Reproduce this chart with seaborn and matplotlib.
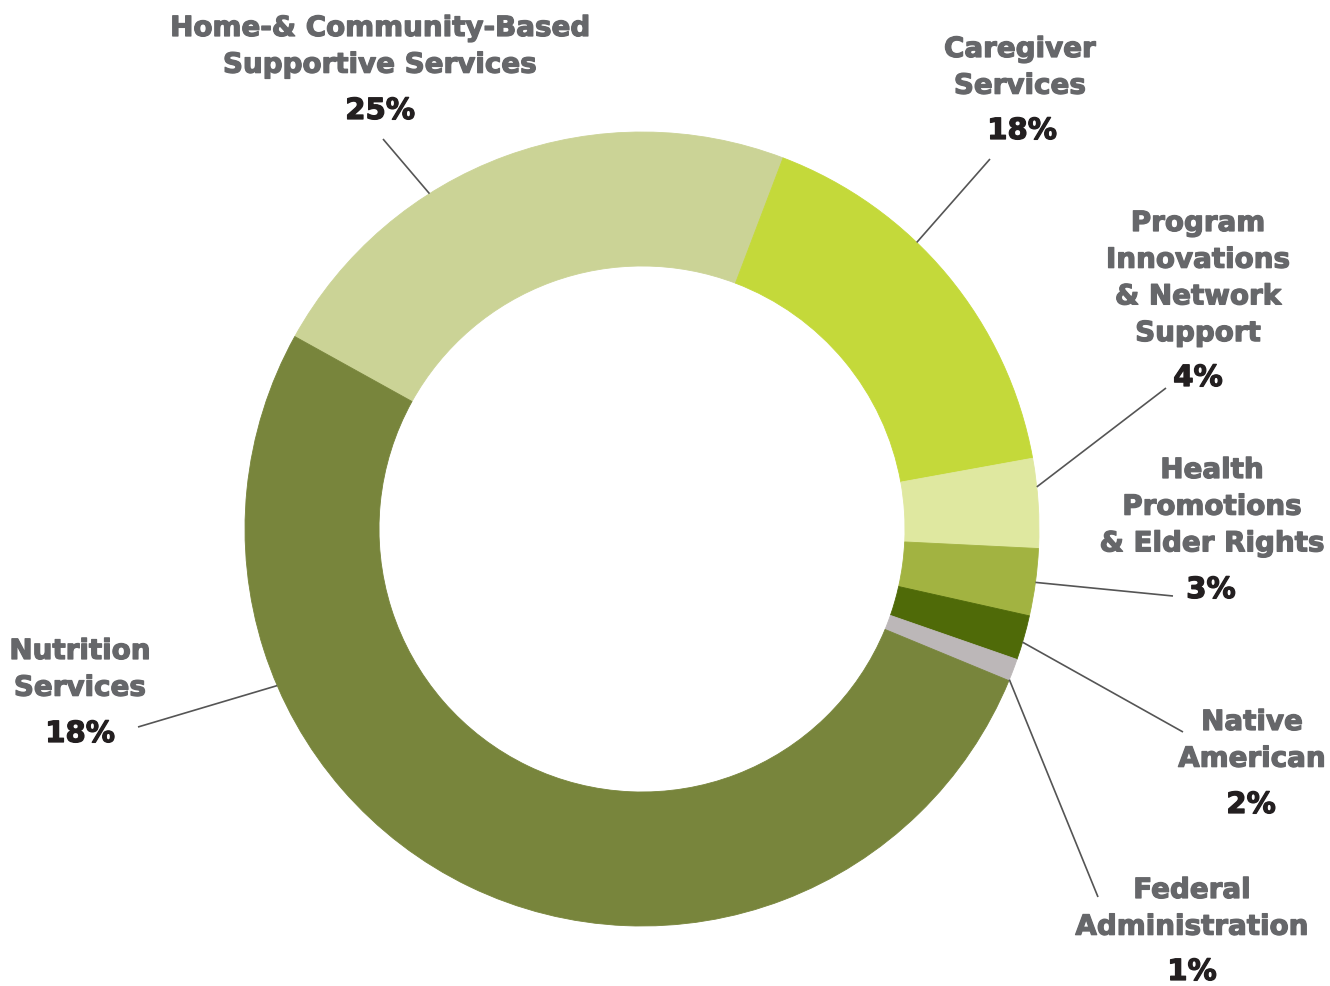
import matplotlib
matplotlib.use("Agg")
import matplotlib.pyplot as plt
import matplotlib.patheffects as pe
import numpy as np
import seaborn as sns

# Funding shares by program area (clockwise from the upper left)
categories = [
    "Home-& Community-Based\nSupportive Services",
    "Caregiver\nServices",
    "Program\nInnovations\n& Network\nSupport",
    "Health\nPromotions\n& Elder Rights",
    "Native\nAmerican",
    "Federal\nAdministration",
    "Nutrition\nServices",
]
shares = [25, 18, 4, 3, 2, 1, 57]
pct_labels = ["25%", "18%", "4%", "3%", "2%", "1%", "18%"]
colors = ["#cbd396", "#c4d93a", "#dfe8a0", "#a2b341", "#4f6a08", "#bcb7b8", "#78853c"]

sns.set_theme(style="white")
plt.rcParams["font.family"] = ["DejaVu Sans"]

W, H = 1330, 987
fig = plt.figure(figsize=(W / 100, H / 100), dpi=100)
ax = fig.add_axes([0, 0, 1, 1])

cx, cy = 642, H - 530
R, ring = 397, 134
start = 151  # degrees, counter-clockwise from +x

wedges, _ = ax.pie(
    shares, colors=colors, startangle=start, counterclock=False,
    center=(cx, cy), radius=R, frame=False,
    wedgeprops=dict(width=ring, linewidth=0.6, antialiased=True),
)
for w, c in zip(wedges, colors):
    w.set_edgecolor(c)

ax.set_xlim(0, W)
ax.set_ylim(0, H)
ax.set_aspect("equal")
ax.axis("off")

# Label layout (pixel positions from the top-left corner)
anchor_frac = [0.35, 0.39, 0.32, 0.50, 0.60, 0.95, 0.72]
line_ends = [(383, 140), (990, 160), (1166, 389), (1173, 597),
             (1183, 733), (1098, 898), (138, 728)]
name_pos = [(380, 29), (1020, 50), (1198, 224), (1212, 471),
            (1252, 723), (1192, 891), (80, 652)]
pct_pos = [(380, 112), (1022, 132), (1198, 379), (1211, 591),
           (1251, 806), (1192, 973), (80, 735)]
line_step = 36.7

name_color = "#66676a"
pct_color = "#231f20"
name_fs = 20
pct_fs = 21


def heavy(color):
    return [pe.withStroke(linewidth=0.9, foreground=color)]


for w, frac, end, npos, ppos, name, pct in zip(
        wedges, anchor_frac, line_ends, name_pos, pct_pos, categories, pct_labels):
    t1, t2 = w.theta1, w.theta2
    ang = np.deg2rad(t2 + frac * (t1 - t2))
    sx, sy = cx + R * np.cos(ang), cy + R * np.sin(ang)
    ax.plot([sx, end[0]], [sy, H - end[1]], color="#555555", lw=1.2,
            solid_capstyle="butt", zorder=3)
    for i, line in enumerate(name.split("\n")):
        ax.text(npos[0], H - (npos[1] + i * line_step), line, ha="center", va="center",
                fontsize=name_fs, fontweight="bold", color=name_color,
                path_effects=heavy(name_color))
    ax.text(ppos[0], H - ppos[1], pct, ha="center", va="center",
            fontsize=pct_fs, fontweight="bold", color=pct_color,
            path_effects=heavy(pct_color))

fig.savefig("out.png", dpi=100, facecolor="white")
